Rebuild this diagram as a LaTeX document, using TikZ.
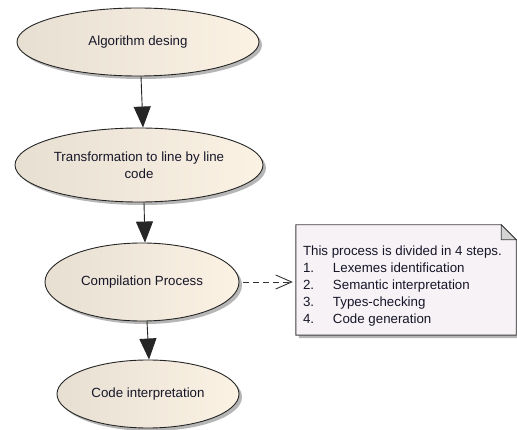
\documentclass[tikz,border=0pt]{standalone}
\usepackage{fontspec}
\setmainfont{Liberation Sans}
\usetikzlibrary{arrows.meta,shapes.geometric,shadows,calc}
\definecolor{inkc}{RGB}{22,22,40}
\definecolor{ucleft}{RGB}{231,223,210}
\definecolor{ucright}{RGB}{251,242,228}
\definecolor{notefill}{RGB}{247,242,246}
\definecolor{foldfill}{RGB}{212,212,212}
\definecolor{shadowc}{RGB}{182,182,182}
\begin{document}
\begin{tikzpicture}[x=1pt,y=-1pt,
  usecase/.style={ellipse, draw=black!85, line width=0.9pt,
    left color=ucleft, right color=ucright, inner sep=0pt, text=inkc,
    font=\fontsize{13.3}{17}\selectfont, align=center,
    drop shadow={shadow xshift=3pt, shadow yshift=-3pt, fill=shadowc, opacity=1}},
  flow/.style={draw=black!85, line width=0.9pt, -{Triangle[length=21pt,width=17pt]}},
  dep/.style={draw=black!80, line width=0.9pt, dash pattern=on 6pt off 4pt,
    -{Straight Barb[length=16pt,width=14pt]}},
  notetxt/.style={anchor=north west, inner sep=0pt, align=left, text=inkc,
    font=\fontsize{13.3}{17}\selectfont},
]
\fill[white] (0,0) rectangle (517,430);
\useasboundingbox (0,0) rectangle (517,430);

% use cases
\node[usecase, minimum width=242pt, minimum height=68pt] (e1) at (138,42) {Algorithm desing};
\node[usecase, minimum width=248pt, minimum height=74pt, inner xsep=-2pt] (e2) at (139,165)
  {Transformation to line by line\\code};
\node[usecase, minimum width=194pt, minimum height=78pt] (e3) at (142,282) {Compilation Process};
\node[usecase, minimum width=182pt, minimum height=68pt] (e4) at (148,394) {Code interpretation};

% control flow
\draw[flow] ([xshift=3pt]e1.south) -- ([xshift=4pt]e2.north);
\draw[flow] ([xshift=5pt]e2.south) -- ([xshift=3pt]e3.north);
\draw[flow] ([xshift=5pt]e3.south) -- ([xshift=1pt]e4.north);

% note with folded corner
\node[minimum width=220pt, minimum height=110pt, inner sep=0pt] (notebox) at (406,280) {};
\fill[shadowc] ($(notebox.north west)+(3,3)$) -- ($(notebox.north east)+(-12,3)$)
  -- ($(notebox.north east)+(3,18)$) -- ($(notebox.south east)+(3,3)$)
  -- ($(notebox.south west)+(3,3)$) -- cycle;
\filldraw[fill=notefill, draw=black!75, line width=0.9pt]
  (notebox.south west) -- (notebox.north west) -- ($(notebox.north east)+(-15,0)$)
  -- ($(notebox.north east)+(0,15)$) -- (notebox.south east) -- cycle;
\filldraw[fill=foldfill, draw=black!75, line width=0.9pt]
  ($(notebox.north east)+(-15,0)$) -- ($(notebox.north east)+(-15,15)$)
  -- ($(notebox.north east)+(0,15)$) -- cycle;
\node[notetxt] (notetext) at ($(notebox.north west)+(7,21)$)
  {This process is divided in 4 steps.\\
   \makebox[30pt][l]{1.}Lexemes identification\\
   \makebox[30pt][l]{2.}Semantic interpretation\\
   \makebox[30pt][l]{3.}Types-checking\\
   \makebox[30pt][l]{4.}Code generation};

% dependency to the note
\draw[dep] ([xshift=4pt]e3.east) -- ([xshift=-3pt]e3.east -| notebox.west);
\end{tikzpicture}
\end{document}
